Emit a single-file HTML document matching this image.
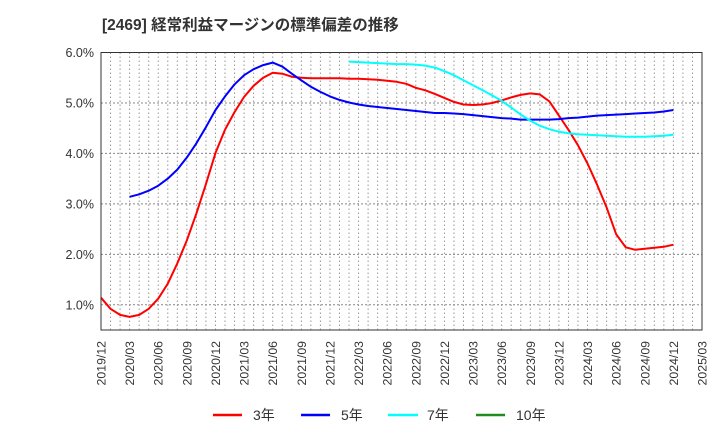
<!DOCTYPE html>
<html><head><meta charset="utf-8"><style>
body{margin:0;background:#fff;}
svg text{font-family:"Liberation Sans","Noto Sans CJK JP",sans-serif;}
</style></head><body>
<svg id="chart" width="720" height="440" xmlns="http://www.w3.org/2000/svg">
<text x="102" y="30" font-size="15.5" font-weight="bold" fill="#333">[2469]  経常利益マージンの標準偏差の推移</text>
<g id="grid"></g>
<g id="yaxis"></g>
<g id="xaxis"></g>
<g id="series"></g>
<rect x="101" y="52.5" width="601" height="277.5" fill="none" stroke="#333" stroke-width="1"/>
<g font-size="14" fill="#333">
<g><line x1="213" y1="415" x2="242" y2="415" stroke="#ff0000" stroke-width="2.5"/><text x="253" y="420">3年</text></g>
<g><line x1="301" y1="415" x2="330" y2="415" stroke="#0000ff" stroke-width="2.5"/><text x="341" y="420">5年</text></g>
<g><line x1="388" y1="415" x2="418" y2="415" stroke="#00ffff" stroke-width="2.5"/><text x="427" y="420">7年</text></g>
<g><line x1="476" y1="415" x2="505" y2="415" stroke="#228b22" stroke-width="2.5"/><text x="516" y="420">10年</text></g>
</g>
</svg>
<script>
const xLabels=["2019/12","2020/03","2020/06","2020/09","2020/12","2021/03","2021/06","2021/09","2021/12","2022/03","2022/06","2022/09","2022/12","2023/03","2023/06","2023/09","2023/12","2024/03","2024/06","2024/09","2024/12","2025/03"];
const yTicks=[1,2,3,4,5,6];
const s3Start=0;
const s3=[1.14,0.92,0.80,0.76,0.80,0.92,1.12,1.42,1.82,2.28,2.81,3.39,4.01,4.47,4.82,5.12,5.34,5.50,5.60,5.58,5.52,5.50,5.49,5.49,5.49,5.49,5.48,5.48,5.47,5.46,5.44,5.42,5.38,5.30,5.25,5.18,5.10,5.02,4.97,4.96,4.97,5.00,5.05,5.11,5.16,5.19,5.17,5.03,4.75,4.47,4.16,3.80,3.38,2.93,2.40,2.14,2.09,2.11,2.13,2.15,2.19];
const s5Start=3;
const s5=[3.14,3.19,3.26,3.36,3.50,3.68,3.92,4.20,4.52,4.86,5.13,5.37,5.55,5.67,5.75,5.80,5.72,5.58,5.45,5.32,5.22,5.13,5.06,5.01,4.97,4.94,4.92,4.90,4.88,4.86,4.84,4.82,4.80,4.80,4.79,4.78,4.76,4.74,4.72,4.70,4.69,4.67,4.67,4.67,4.67,4.68,4.70,4.71,4.73,4.75,4.76,4.77,4.78,4.79,4.80,4.81,4.83,4.86];
const s7Start=26;
const s7=[5.82,5.81,5.80,5.79,5.78,5.77,5.77,5.76,5.74,5.70,5.63,5.55,5.45,5.35,5.25,5.15,5.04,4.91,4.77,4.65,4.55,4.48,4.43,4.40,4.38,4.37,4.36,4.35,4.34,4.33,4.33,4.33,4.34,4.35,4.37];
const NS="http://www.w3.org/2000/svg";
const X0=101,X1=702,Y0=330,Ytop=52.5,Vmin=0.5,Vmax=6.0,NM=63;
function xs(m){return X0+(X1-X0)*m/NM;}
function ys(v){return Y0-(v-Vmin)/(Vmax-Vmin)*(Y0-Ytop);}
function mk(tag,attrs,parent){const e=document.createElementNS(NS,tag);for(const k in attrs)e.setAttribute(k,attrs[k]);parent.appendChild(e);return e;}
const grid=document.getElementById('grid');
for(let m=1;m<NM;m++){
  const l=mk('line',{x1:xs(m),x2:xs(m),y1:Ytop,y2:Y0,stroke:'#999','stroke-dasharray':'1.5,2.5','stroke-width':1},grid);
  
  
}
const ya=document.getElementById('yaxis');
yTicks.forEach(v=>{
  const l=mk('line',{x1:X0,x2:X1,y1:ys(v),y2:ys(v),stroke:'#888','stroke-dasharray':'2,2','stroke-width':1},grid);
  
  
  const t=mk('text',{x:94,y:ys(v)+4.5,'text-anchor':'end','font-size':12.5,fill:'#333'},ya);
  t.textContent=v.toFixed(1)+'%';
  
  
});
const xa=document.getElementById('xaxis');
xLabels.forEach((s,i)=>{
  const x=xs(i*3);
  const t=mk('text',{x:0,y:0,transform:`translate(${x+4.5},341) rotate(-90)`,'text-anchor':'end','font-size':12.3,fill:'#333'},xa);
  t.textContent=s;
  
  
});
const sg=document.getElementById('series');
function draw(arr,start,color,name){
  const d=arr.map((v,i)=>(i?'L':'M')+xs(start+i).toFixed(1)+','+ys(v).toFixed(1)).join(' ');
  const p=mk('path',{d:d,fill:'none',stroke:color,'stroke-width':2,'stroke-linejoin':'round'},sg);
  
  
}
draw(s3,s3Start,'#ff0000','line-3y');
draw(s5,s5Start,'#0000ff','line-5y');
draw(s7,s7Start,'#00ffff','line-7y');
</script>
</body></html>
